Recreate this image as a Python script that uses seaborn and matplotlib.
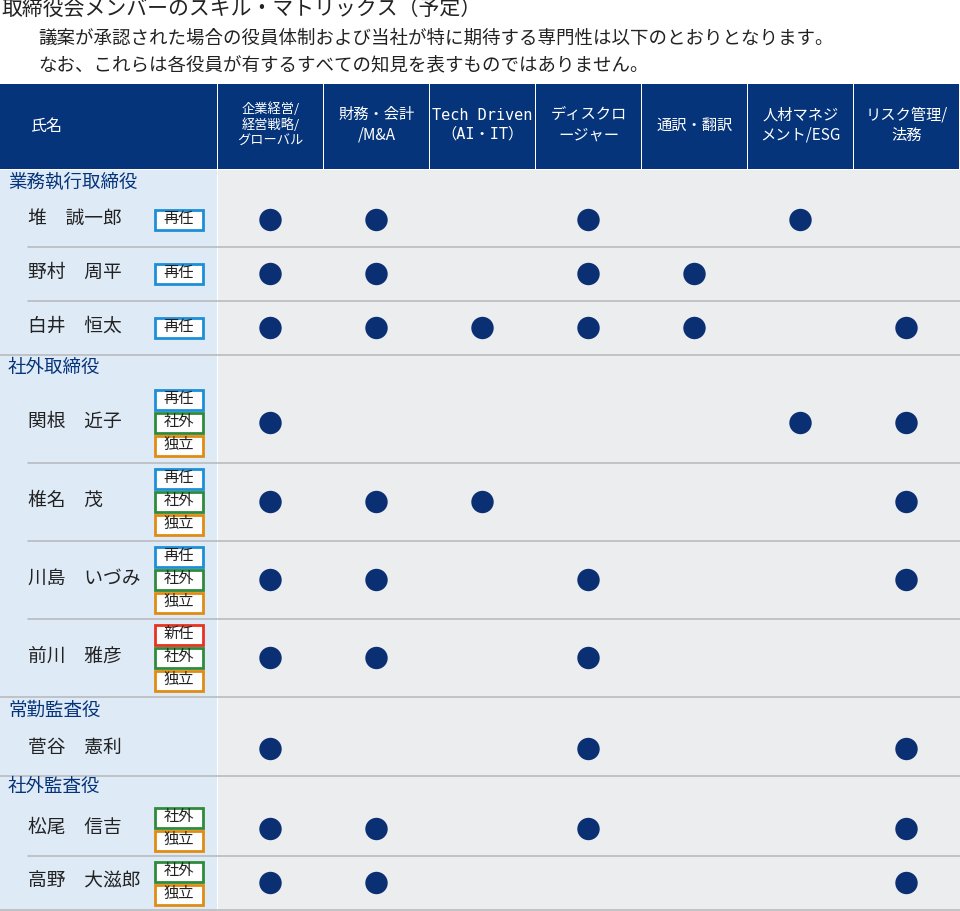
import matplotlib
matplotlib.use("Agg")
import matplotlib.pyplot as plt
import seaborn as sns
import pandas as pd
from matplotlib.patches import Rectangle

sns.set_theme(style="white")
plt.rcParams['font.family'] = ['Noto Sans CJK JP', 'DejaVu Sans']

title = "取締役会メンバーのスキル・マトリックス（予定）"
subtitle1 = "議案が承認された場合の役員体制および当社が特に期待する専門性は以下のとおりとなります。"
subtitle2 = "なお、これらは各役員が有するすべての知見を表すものではありません。"
skills = ["企業経営/\n経営戦略/\nグローバル", "財務・会計\n/M&A", "Tech Driven\n（AI・IT）",
          "ディスクロ\nージャー", "通訳・翻訳", "人材マネジ\nメント/ESG", "リスク管理/\n法務"]
groups = ["業務執行取締役", "社外取締役", "常勤監査役", "社外監査役"]
names = ["堆　誠一郎", "野村　周平", "白井　恒太", "関根　近子", "椎名　茂", "川島　いづみ",
         "前川　雅彦", "菅谷　憲利", "松尾　信吉", "高野　大滋郎"]
name_group = [0, 0, 0, 1, 1, 1, 1, 2, 3, 3]
badges = [["再任"], ["再任"], ["再任"], ["再任", "社外", "独立"], ["再任", "社外", "独立"],
          ["再任", "社外", "独立"], ["新任", "社外", "独立"], [], ["社外", "独立"], ["社外", "独立"]]
matrix = [
    [1, 1, 0, 1, 0, 1, 0],
    [1, 1, 0, 1, 1, 0, 0],
    [1, 1, 1, 1, 1, 0, 1],
    [1, 0, 0, 0, 0, 1, 1],
    [1, 1, 1, 0, 0, 0, 1],
    [1, 1, 0, 1, 0, 0, 1],
    [1, 1, 0, 1, 0, 0, 0],
    [1, 0, 0, 1, 0, 0, 1],
    [1, 1, 0, 1, 0, 0, 1],
    [1, 1, 0, 0, 0, 0, 1],
]
badge_colors = {"再任": "#1c8fd8", "社外": "#2f8a3b", "独立": "#e08c12", "新任": "#e8321e"}

# layout
W, H = 960, 911
navy = "#06347a"
col_left = [218 + i * 106 for i in range(7)]
col_w = 105
row_y = [220, 274, 328, 423, 502, 580, 658, 749, 829, 883]
row_bottom = [247, 301, 355, 463, 541, 619, 697, 776, 856, 910]
group_y = [185, 370, 713, 789]
dy = -2

fig = plt.figure(figsize=(W / 100, H / 100), dpi=100)
ax = fig.add_axes([0, 0, 1, 1])
ax.set_xlim(0, W)
ax.set_ylim(H, 0)
ax.axis("off")
fig.patch.set_facecolor("white")

ax.text(1, 11 + dy, title, fontsize=15, va="center", ha="left", color="#222")
ax.text(38, 41 + dy, subtitle1, fontsize=13.3, va="center", ha="left", color="#222")
ax.text(38, 67 + dy, subtitle2, fontsize=13.3, va="center", ha="left", color="#222")

# header
ax.add_patch(Rectangle((0, 84), 217, 85, color=navy, lw=0))
ax.text(30, 126, "氏名", color="white", fontsize=11.5, va="center", ha="left")
for i, s in enumerate(skills):
    ax.add_patch(Rectangle((col_left[i], 84), col_w, 85, color=navy, lw=0))
    fs = 9.5 if i == 0 else 11
    fam = ['DejaVu Sans Mono', 'Noto Sans CJK JP'] if i == 2 else ['Noto Sans CJK JP', 'DejaVu Sans']
    ax.text(col_left[i] + col_w / 2, 125, s, color="white", fontsize=fs, va="center",
            ha="center", linespacing=1.25, family=fam)

# body
ax.add_patch(Rectangle((218, 170), W - 218, H - 170, color="#ebedee", lw=0))
ax.add_patch(Rectangle((0, 170), 217, H - 170, color="#deeaf6", lw=0))
for gi, g in enumerate(groups):
    ax.text(8, group_y[gi] + dy, g, color=navy, fontsize=13.3, va="center", ha="left")
for r, nm in enumerate(names):
    ax.text(28, row_y[r] + dy, nm, color="#222", fontsize=13.5, va="center", ha="left")
    nb = len(badges[r])
    for k, b in enumerate(badges[r]):
        cy = row_y[r] + (k - (nb - 1) / 2) * 23
        ax.add_patch(Rectangle((155, cy - 10), 48, 20, facecolor="white",
                               edgecolor=badge_colors[b], lw=2))
        ax.text(179, cy - 1.5, b, fontsize=11, ha="center", va="center", color="#222")
    last = r == len(names) - 1 or name_group[r + 1] != name_group[r]
    x0 = 0 if last else 28
    ax.plot([x0, W], [row_bottom[r], row_bottom[r]], color="#b9bcbf", lw=1.2)

# dots
df = pd.DataFrame([(c, r) for r in range(len(names)) for c in range(7) if matrix[r][c]],
                  columns=["skill", "row"])
df["x"] = [col_left[c] + col_w / 2 for c in df["skill"]]
df["y"] = [row_y[r] for r in df["row"]]
sns.scatterplot(data=df, x="x", y="y", ax=ax, s=260, color="#0b2f73", edgecolor="none", legend=False)
ax.set_xlim(0, W)
ax.set_ylim(H, 0)
ax.axis("off")

fig.savefig("out.png", dpi=100)
